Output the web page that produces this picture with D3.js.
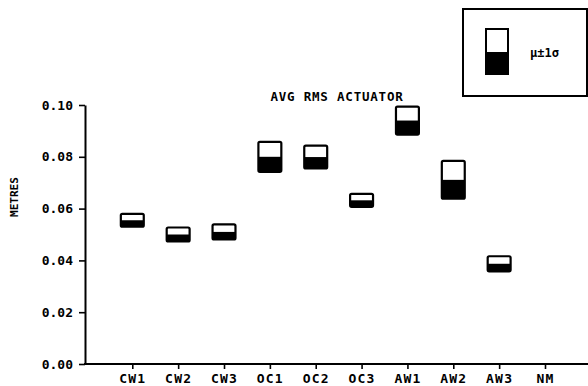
<!DOCTYPE html>
<html>
<head>
<meta charset="utf-8">
<script src="https://cdn.jsdelivr.net/npm/d3@7"></script>
<style>
  html, body { margin: 0; padding: 0; background: #fff; }
  svg { display: block; }
  text { font-family: "DejaVu Sans Mono", "Liberation Mono", monospace; font-weight: bold; fill: #000; }
</style>
</head>
<body>
<svg id="chart" width="588" height="386"></svg>
<script>
// Run categories
const categories = ["CW1", "CW2", "CW3", "OC1", "OC2", "OC3", "AW1", "AW2", "AW3", "NM"];
// Mean of the RMS actuator displacement (metres); NM has no data
const means  = [0.0555, 0.0500, 0.0510, 0.0800, 0.0799, 0.0632, 0.0940, 0.0711, 0.0387, null];
// One standard deviation about the mean
const sigmas = [0.0025, 0.0027, 0.0029, 0.0058, 0.0044, 0.0025, 0.0054, 0.0073, 0.0029, null];
// Y axis ticks
const yTicks = [0.00, 0.02, 0.04, 0.06, 0.08, 0.10];

const svg = d3.select("#chart");

const x = d3.scalePoint().domain(categories).range([132.3, 545]);
const y = d3.scaleLinear().domain([0, 0.1]).range([364, 105]);
const boxW = x.step() * 0.5;

// Y axis
const yAxis = svg.append("g")
  .attr("transform", "translate(85,0)")
  .call(d3.axisLeft(y).tickValues(yTicks).tickFormat(d3.format(".2f")).tickSize(6).tickSizeOuter(0).tickPadding(6));
yAxis.select(".domain").attr("stroke", "#000").attr("stroke-width", 2);
yAxis.selectAll(".tick line").attr("stroke", "#000").attr("stroke-width", 1.6);
yAxis.selectAll(".tick text")
  .attr("font-size", 13).attr("font-family", "DejaVu Sans Mono, monospace")
  .attr("font-weight", "bold").attr("fill", "#000");

// X axis baseline running to the right edge
svg.append("line")
  .attr("x1", 84).attr("x2", 588)
  .attr("y1", y(0)).attr("y2", y(0))
  .attr("stroke", "#000").attr("stroke-width", 2);

const xAxis = svg.append("g")
  .attr("transform", `translate(0,${y(0)})`)
  .call(d3.axisBottom(x).tickSize(5).tickPadding(5));
xAxis.select(".domain").remove();
xAxis.selectAll(".tick line").attr("stroke", "#000").attr("stroke-width", 1.6);
xAxis.selectAll(".tick text")
  .attr("font-size", 13).attr("font-family", "DejaVu Sans Mono, monospace")
  .attr("font-weight", "bold").attr("fill", "#000")
  .attr("letter-spacing", 1.2);

// Y axis title
svg.append("text")
  .attr("transform", "translate(18,197) rotate(-90)")
  .attr("text-anchor", "middle")
  .attr("font-size", 11)
  .text("METRES");

// Chart title
svg.append("text")
  .attr("x", 337).attr("y", 101)
  .attr("text-anchor", "middle")
  .attr("font-size", 12.5)
  .attr("letter-spacing", 0.8)
  .text("AVG RMS ACTUATOR");

// Mean ± 1σ boxes: upper half open, lower half filled
const data = categories.map((c, i) => ({ c, m: means[i], s: sigmas[i] })).filter(d => d.m != null);

const boxes = svg.append("g").selectAll("g").data(data).join("g");
boxes.append("rect")
  .attr("x", d => x(d.c) - boxW / 2)
  .attr("width", boxW)
  .attr("y", d => y(d.m))
  .attr("height", d => y(d.m - d.s) - y(d.m))
  .attr("fill", "#000");
boxes.append("rect")
  .attr("x", d => x(d.c) - boxW / 2)
  .attr("width", boxW)
  .attr("y", d => y(d.m + d.s))
  .attr("height", d => y(d.m - d.s) - y(d.m + d.s))
  .attr("rx", 1.5)
  .attr("fill", "none")
  .attr("stroke", "#000")
  .attr("stroke-width", 2.2);

// Legend
const legend = svg.append("g");
legend.append("rect")
  .attr("x", 463).attr("y", 9).attr("width", 124).attr("height", 87)
  .attr("fill", "none").attr("stroke", "#000").attr("stroke-width", 2);
legend.append("rect")
  .attr("x", 486).attr("y", 52).attr("width", 22).attr("height", 22)
  .attr("fill", "#000");
legend.append("rect")
  .attr("x", 486).attr("y", 29).attr("width", 22).attr("height", 45)
  .attr("fill", "none").attr("stroke", "#000").attr("stroke-width", 2);
legend.append("text")
  .attr("x", 530).attr("y", 57)
  .attr("font-size", 12)
  .text("μ±1σ");
</script>
</body>
</html>
